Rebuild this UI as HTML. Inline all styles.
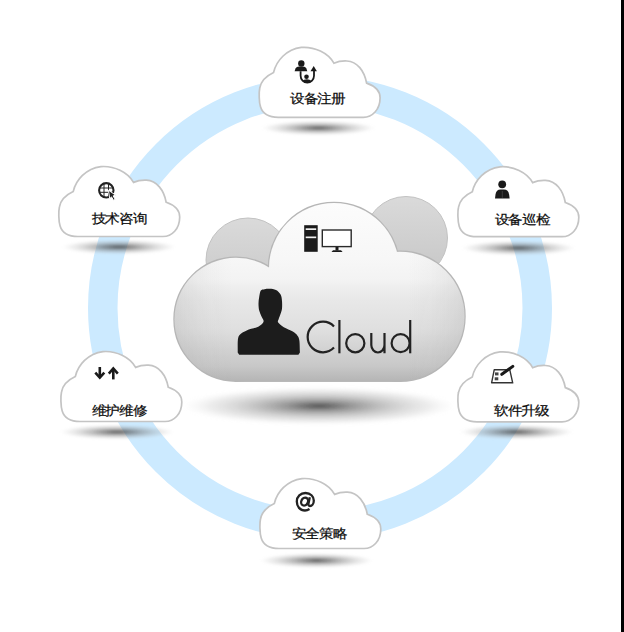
<!DOCTYPE html>
<html><head><meta charset="utf-8">
<style>
html,body{margin:0;padding:0;background:#fff;}
body{width:624px;height:632px;overflow:hidden;position:relative;font-family:"Liberation Sans",sans-serif;}
svg{position:absolute;left:0;top:0;}
.t{font-family:"Liberation Sans",sans-serif;font-size:14.1px;fill:#0c0c0c;stroke:#0c0c0c;stroke-width:0.25px;}
</style></head>
<body>
<svg width="624" height="632" viewBox="0 0 624 632">
<defs>
  <filter id="blur1" x="-20%" y="-100%" width="140%" height="300%"><feGaussianBlur stdDeviation="1.2"/></filter>
  <filter id="blur2" x="-20%" y="-100%" width="140%" height="300%"><feGaussianBlur stdDeviation="1.5"/></filter>
  <radialGradient id="shs" cx="0.5" cy="0.5" r="0.5">
    <stop offset="0" stop-color="#3a3a3a" stop-opacity="0.8"/>
    <stop offset="0.3" stop-color="#555" stop-opacity="0.55"/>
    <stop offset="0.6" stop-color="#888" stop-opacity="0.35"/>
    <stop offset="0.85" stop-color="#aaa" stop-opacity="0.15"/>
    <stop offset="1" stop-color="#ccc" stop-opacity="0"/>
  </radialGradient>
  <radialGradient id="shc" cx="0.5" cy="0.5" r="0.5">
    <stop offset="0" stop-color="#333" stop-opacity="0.85"/>
    <stop offset="0.25" stop-color="#555" stop-opacity="0.6"/>
    <stop offset="0.55" stop-color="#888" stop-opacity="0.4"/>
    <stop offset="0.8" stop-color="#aaa" stop-opacity="0.22"/>
    <stop offset="0.95" stop-color="#ccc" stop-opacity="0.06"/>
    <stop offset="1" stop-color="#ddd" stop-opacity="0"/>
  </radialGradient>
  <linearGradient id="body" gradientUnits="userSpaceOnUse" x1="0" y1="203" x2="0" y2="382">
    <stop offset="0" stop-color="#fcfcfc"/>
    <stop offset="0.31" stop-color="#f7f7f7"/>
    <stop offset="0.43" stop-color="#f3f3f3"/>
    <stop offset="0.48" stop-color="#ededed"/>
    <stop offset="0.54" stop-color="#e8e8e8"/>
    <stop offset="0.71" stop-color="#dfdfdf"/>
    <stop offset="0.82" stop-color="#d2d2d2"/>
    <stop offset="0.91" stop-color="#c8c8c8"/>
    <stop offset="1" stop-color="#b4b4b4"/>
  </linearGradient>
  <linearGradient id="rim" gradientUnits="userSpaceOnUse" x1="174" y1="0" x2="466" y2="0">
    <stop offset="0" stop-color="#777" stop-opacity="0.15"/>
    <stop offset="0.12" stop-color="#999" stop-opacity="0.05"/>
    <stop offset="0.2" stop-color="#999" stop-opacity="0"/>
    <stop offset="0.8" stop-color="#999" stop-opacity="0"/>
    <stop offset="0.88" stop-color="#999" stop-opacity="0.05"/>
    <stop offset="1" stop-color="#777" stop-opacity="0.15"/>
  </linearGradient>
  <linearGradient id="back" x1="0" y1="0" x2="0" y2="1">
    <stop offset="0" stop-color="#dadada"/>
    <stop offset="1" stop-color="#c6c6c6"/>
  </linearGradient>
  <path id="cs" d="M20 70.5 C10 70.5 4 66 2.2 60 C0.6 55 0.6 45 1.5 41 C2.8 34 7 29.5 15.3 25.6 C18 14 28 2.5 43 0.6 C56 -0.4 70 6 75.6 16.4 C80 14.5 84 14 88.5 14.2 C99 14.8 106 24 108.3 36.3 C116 39 121.8 44 121.8 51 C121.8 63 114 70.5 105 70.5 Z"/>
  <g id="cl">
    <use href="#cs" stroke="#c4c4c4" stroke-width="1.7" fill="#fff"/>
  </g>
  <g id="bshape">
    <circle cx="236" cy="319.25" r="61.5"/>
    <circle cx="400" cy="316.25" r="64.5"/>
    <circle cx="334" cy="268" r="65"/>
    <rect x="236" y="300" width="164" height="80.75"/>
  </g>
  <mask id="bm" maskUnits="userSpaceOnUse" x="0" y="0" width="624" height="632"><use href="#bshape" fill="#fff"/></mask>
</defs>

<!-- ring -->
<circle cx="320" cy="308" r="217.25" fill="none" stroke="#cceaff" stroke-width="29.5"/>

<!-- small cloud shadows -->
<g filter="url(#blur1)">
<ellipse cx="318.5" cy="128" rx="57" ry="7.5" fill="url(#shs)"/>
<ellipse cx="518.5" cy="248" rx="57" ry="7.5" fill="url(#shs)"/>
<ellipse cx="516.5" cy="432" rx="57" ry="7.5" fill="url(#shs)"/>
<ellipse cx="316.5" cy="560.5" rx="57" ry="7.5" fill="url(#shs)"/>
<ellipse cx="117" cy="432" rx="57" ry="7.5" fill="url(#shs)"/>
<ellipse cx="119" cy="247" rx="57" ry="7.5" fill="url(#shs)"/>
</g>

<!-- central shadow -->
<ellipse cx="319" cy="406" rx="136" ry="19" fill="url(#shc)" filter="url(#blur2)"/>

<!-- small clouds -->
<use href="#cl" x="258.3" y="46.8"/>
<use href="#cl" x="457" y="166.2"/>
<use href="#cl" x="457" y="351.3"/>
<use href="#cl" x="259" y="478"/>
<use href="#cl" x="60" y="351"/>
<use href="#cl" x="57.9" y="166"/>

<!-- texts -->
<text class="t" transform="translate(290 103.4) scale(1 0.89)">设备注册</text>
<text class="t" transform="translate(494.5 224) scale(1 0.89)">设备巡检</text>
<text class="t" transform="translate(494 414.8) scale(1 0.89)">软件升级</text>
<text class="t" transform="translate(291.5 537.6) scale(1 0.89)">安全策略</text>
<text class="t" transform="translate(91.5 414.8) scale(1 0.89)">维护维修</text>
<text class="t" transform="translate(91.5 223.4) scale(1 0.89)">技术咨询</text>

<!-- central cloud -->
<circle cx="248" cy="260" r="42" fill="url(#back)" stroke="#c2c2c2" stroke-width="1"/>
<circle cx="406" cy="238" r="41.5" fill="url(#back)" stroke="#c2c2c2" stroke-width="1"/>
<g stroke="#b6b6b6" stroke-width="2.4"><use href="#bshape"/></g>
<use href="#bshape" fill="url(#body)"/>
<rect x="170" y="200" width="300" height="185" fill="url(#rim)" mask="url(#bm)"/>

<!-- tower + monitor -->
<rect x="304.2" y="225.2" width="13.5" height="26.6" fill="#1a1a1a"/>
<rect x="305.7" y="228.3" width="10.5" height="1.7" fill="#f0f0f0"/>
<rect x="305.7" y="236.5" width="10.5" height="1.7" fill="#f0f0f0"/>
<rect x="322.3" y="230" width="28.9" height="16.6" fill="#fff" stroke="#2a2a2a" stroke-width="1.4"/>
<rect x="335.5" y="247" width="3" height="3.5" fill="#1a1a1a"/>
<path d="M331.5 252 L333 250.3 L341 250.3 L342.6 252 Z" fill="#1a1a1a"/>

<!-- person -->
<path d="M260.8 290.6 C261.7 289.3 263.1 289.5 264.6 289.2 C266.1 288.9 267.8 288.7 269.7 288.8 C271.6 288.9 274.2 289.1 276 290 C277.8 290.9 279.6 292.7 280.6 294.5 C281.6 296.3 281.8 298.6 282 301 C282.2 303.4 282.2 306.5 282 308.6 C281.8 310.7 281.2 312.1 280.6 313.8 C280.1 315.5 279.1 317.4 278.7 318.9 C278.3 320.3 277.3 321.1 278.2 322.5 C279.1 323.9 281.4 325.7 283.8 327.2 C286.2 328.7 290.6 330.1 292.8 331.5 C295.1 332.9 296.2 333.9 297.3 335.4 C298.4 336.9 299.0 337.8 299.4 340.7 C299.8 343.6 299.7 348.6 299.9 352.6 L298.4 354.8 L239.2 354.8 L237.7 352.4 C237.8 348.1 237.5 342.6 237.9 339.6 C238.3 336.6 238.8 335.8 240.3 334.3 C241.8 332.8 243.9 331.6 246.7 330.4 C249.5 329.2 254.4 328.3 257 327.2 C259.6 326.1 260.9 325.1 262 324 C263.1 322.9 263.7 322.1 263.6 320.8 C263.5 319.5 262.1 318.0 261.4 316.3 C260.7 314.6 259.7 312.7 259.2 310.6 C258.7 308.5 258.5 305.8 258.5 303.5 C258.5 301.2 258.8 299.2 259.2 297.1 C259.6 295.0 259.9 291.9 260.8 290.6 Z" fill="#1c1c1c"/>

<!-- Cloud text -->
<g fill="none" stroke="#222" stroke-width="2.2" stroke-linecap="butt">
  <path d="M334 326.4 A15.3 15.3 0 1 0 334 347.6"/>
  <path d="M339.4 320 L339.4 353.3"/>
  <circle cx="355.3" cy="343.2" r="9.1"/>
  <path d="M371.3 333 L371.3 345 A6.6 7.5 0 0 0 384.5 345 L384.5 333 M384.5 344 L384.5 353.3"/>
  <circle cx="400.6" cy="343.2" r="9"/>
  <path d="M410.2 320 L410.2 353.3"/>
</g>

<!-- icons -->
<!-- 1 register -->
<g fill="#1a1a1a">
  <circle cx="301.3" cy="63.5" r="3.2"/>
  <path d="M294.6 71.3 L295.5 68.5 Q296.5 66.4 299 66.4 L303 66.4 Q305.5 66.4 306.4 68.5 L307.3 71.3 Z"/>
  <path d="M300.6 71.3 L300.6 75.8 A6.7 6.7 0 0 0 314 75.8 L314 70.5" fill="none" stroke="#1a1a1a" stroke-width="1.8"/>
  <path d="M310.5 71.3 L313.7 66.1 L316.9 71.3 Z"/>
  <circle cx="306.5" cy="76.8" r="2.3"/>
  <path d="M302.5 81 Q303.5 79.3 306.8 79.3 Q310 79.3 311.3 81 L309 83 L305 83 Z"/>
</g>
<!-- 2 person -->
<g fill="#1a1a1a">
  <circle cx="502.2" cy="184.3" r="3.9"/>
  <path d="M495 198.6 L495.5 194.5 Q496.3 189.6 500.5 189.5 L504 189.5 Q508.4 189.6 509.1 194.5 L509.6 198.6 Z"/>
  <path d="M502.3 191 L502.3 197.8" stroke="#555" stroke-width="0.6"/>
</g>
<!-- 3 tablet + pen -->
<g>
  <path d="M494.2 369.8 L509.8 369.8 L512.7 382.8 L491.6 382.8 Z" fill="#fff" stroke="#333" stroke-width="1.4" stroke-linejoin="round"/>
  <rect x="495" y="372.4" width="3.5" height="3" fill="#444"/>
  <rect x="494.7" y="377.3" width="3.6" height="3" fill="#444"/>
  <path d="M501.8 374.3 L512.8 366.4" stroke="#1a1a1a" stroke-width="3" stroke-linecap="round"/>
  <path d="M500.8 375.2 L503.5 372.3 L504 374.2 Z" fill="#1a1a1a"/>
</g>
<!-- 4 @ -->
<g fill="none" stroke="#222" stroke-width="2.3">
  <path d="M309.5 509 C308 510 306.5 510.5 305 510.5 C300 510.5 296.8 506.5 296.8 501.5 C296.8 496.5 300.5 493 305.5 493 C310.5 493 313.8 496.5 313.8 500.5 C313.8 504 311.8 506 310 506 C308.6 506 308.2 505 308.5 503.5 L309.8 497.2"/>
  <ellipse cx="304.6" cy="501.6" rx="3.3" ry="4.1" transform="rotate(25 304.6 501.6)"/>
</g>
<!-- 5 arrows -->
<g stroke="#1a1a1a" stroke-width="2.6" fill="none" stroke-linejoin="miter">
  <path d="M99.8 367 L99.8 377"/>
  <path d="M95.3 372.6 L99.8 377.6 L104.3 372.6"/>
  <path d="M113.3 379.4 L113.3 369"/>
  <path d="M108.8 373.6 L113.3 368.5 L117.8 373.6"/>
</g>
<!-- 6 globe -->
<g>
  <circle cx="106.3" cy="190.3" r="7.2" fill="none" stroke="#222" stroke-width="2.1"/>
  <path d="M99.5 188 L113 188 M99.5 192.3 L113 192.3 M104 183.5 L104 197 M108.5 183.5 L108.5 197" stroke="#222" stroke-width="1"/>
  <path d="M108.4 190.2 L115.8 195.2 L113.1 195.9 L115.2 199.3 L113.5 200.3 L111.5 196.9 L109.7 198.6 Z" fill="#222" stroke="#fff" stroke-width="1" stroke-linejoin="round"/>
</g>

<!-- right black strip -->
<rect x="621" y="0" width="3" height="632" fill="#000"/>
</svg>
</body></html>
